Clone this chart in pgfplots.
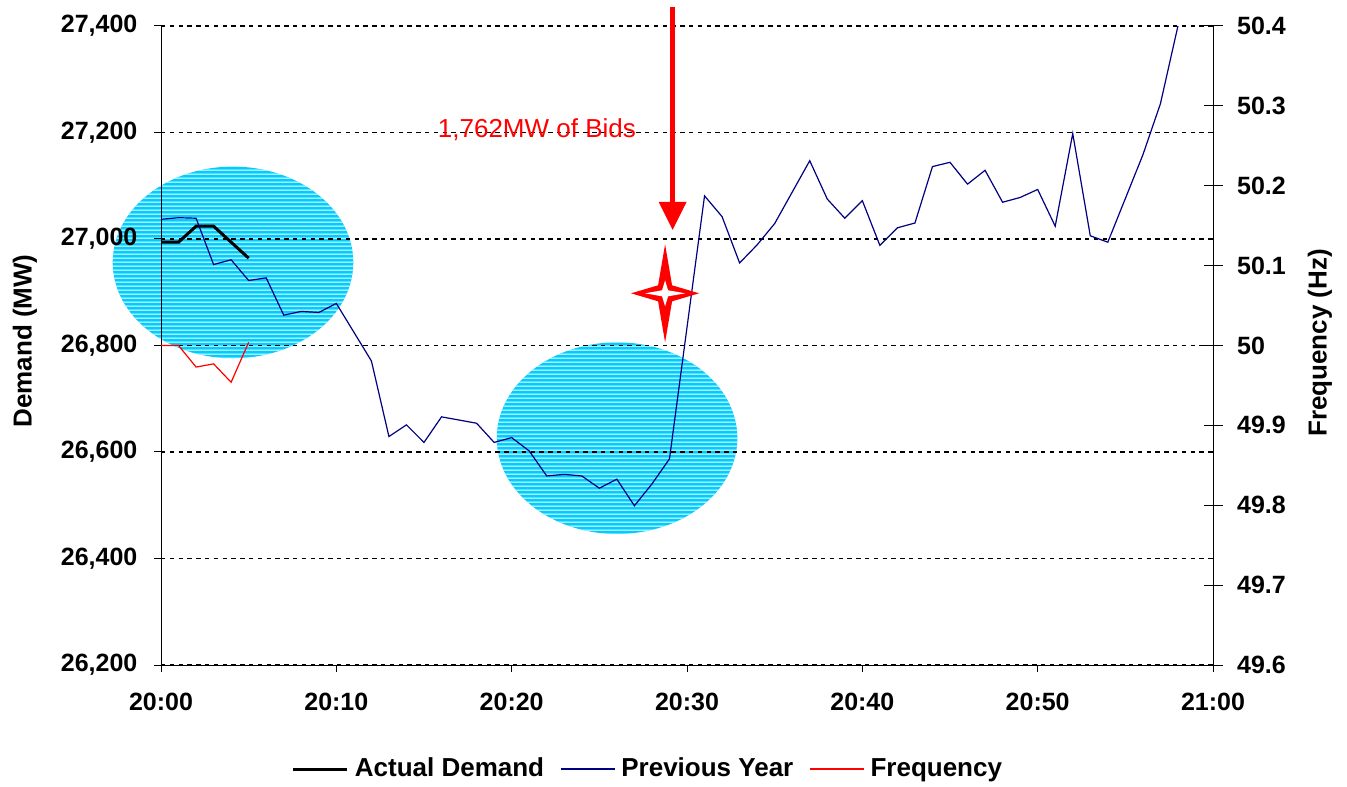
\documentclass[border=0pt]{standalone}
\usepackage{fontspec}
\setmainfont{Liberation Sans}
\usepackage{pgfplots}
\pgfplotsset{compat=1.18}
\usetikzlibrary{patterns}

\definecolor{navyline}{RGB}{0,0,128}
\definecolor{bubble}{RGB}{0,204,255}

% thin white stripes for the highlighted areas
\pgfdeclarepatternformonly{stripes}{\pgfqpoint{0pt}{0pt}}{\pgfqpoint{2.2pt}{2.2pt}}{\pgfqpoint{2.2pt}{2.2pt}}{%
  \pgfsetlinewidth{0.5pt}%
  \pgfpathmoveto{\pgfqpoint{-0.1pt}{1.1pt}}\pgfpathlineto{\pgfqpoint{2.3pt}{1.1pt}}\pgfusepath{stroke}}

\begin{document}
\begin{tikzpicture}
\pgfplotsset{
  common/.style={
    scale only axis, width=526pt, height=319.5pt,
    xmin=0, xmax=60, set layers, clip=false,
    /pgf/number format/assume math mode=true,
    tick label style={font=\bfseries\fontsize{12.5}{15}\selectfont, black},
    label style={font=\bfseries\fontsize{13}{15}\selectfont},
    axis line style={black, line width=0.5pt},
    tick style={black, line width=0.5pt},
  },
}
\begin{axis}[
  common,
  ymin=26200, ymax=27400,
  axis x line*=bottom, axis y line*=left,
  xtick={0,10,20,30,40,50,60},
  xticklabels={20:00,20:10,20:20,20:30,20:40,20:50,21:00},
  ytick={26200,26400,26600,26800,27000,27200,27400},
  scaled y ticks=false,
  yticklabel style={/pgf/number format/fixed, /pgf/number format/1000 sep={,}, xshift=-4.8pt},
  xticklabel style={yshift=-7pt},
  tick align=outside, major tick length=3.5pt,
  ymajorgrids,
  major grid style={black, line width=0.8pt, dash pattern=on 2.2pt off 2.2pt},
  ylabel={Demand (MW)},
  ylabel style={at={(axis description cs:-0.1293,0.507)}, anchor=center},
]
\begin{pgfonlayer}{axis background}
  \fill[bubble] (axis cs:4.106,26956) ellipse [x radius=60.15pt, y radius=47.9pt];
  \fill[pattern=stripes, pattern color=white] (axis cs:4.106,26956) ellipse [x radius=60.15pt, y radius=47.9pt];
  \fill[bubble] (axis cs:26.01,26626) ellipse [x radius=60.15pt, y radius=47.9pt];
  \fill[pattern=stripes, pattern color=white] (axis cs:26.01,26626) ellipse [x radius=60.15pt, y radius=47.9pt];
\end{pgfonlayer}

% Actual Demand
\addplot[black, line width=1.5pt, mark=none] coordinates {
  (0,26994) (1,26994) (2,27024) (3,27024) (5,26964)
};

% Previous Year
\addplot[navyline, line width=0.6pt, mark=none] coordinates {
  (0,27037) (1,27040) (2,27039) (3,26952) (4,26961) (5,26922)
  (6,26927) (7,26857) (8,26864) (9,26862) (10,26879) (12,26771)
  (13,26629) (14,26651) (15,26618) (16,26666) (18,26654) (19,26618)
  (20,26627) (21,26602) (22,26555) (23,26558) (24,26555) (25,26532)
  (26,26549) (27,26499) (28,26540) (29,26587) (31,27081) (32,27042)
  (33,26955) (34,26989) (35,27029) (37,27147) (38,27075) (39,27039)
  (40,27072) (41,26988) (42,27021) (43,27030) (44,27136) (45,27144)
  (46,27103) (47,27129) (48,27069) (49,27078) (50,27093) (51,27024)
  (52,27198) (53,27006) (54,26994) (56,27158) (57,27254) (58,27400)
};

\coordinate (star) at (axis cs:28.75,26898);
\coordinate (arrtop) at (axis cs:29.18,27436);
\coordinate (arrbase) at (axis cs:29.18,27069.5);
\coordinate (arrtip) at (axis cs:29.18,27017);
\node[red, font=\fontsize{13}{15}\selectfont] at (axis cs:21.44,27205) {1,762MW of Bids};
\end{axis}

\begin{axis}[
  common,
  ymin=49.6, ymax=50.4,
  axis y line*=right, axis x line=none,
  ytick={49.6,49.7,49.8,49.9,50,50.1,50.2,50.3,50.4},
  yticklabel style={xshift=3.8pt},
  tick align=center, major tick length=9.5pt,
  ylabel={Frequency (Hz)},
  ylabel style={at={(axis description cs:1.1017,0.504)}, anchor=center},
  legend style={at={(0.4648,-0.1628)}, anchor=center, draw=none, fill=none,
    font=\bfseries\fontsize{13}{15}\selectfont,
    nodes={inner xsep=3pt},
    /tikz/every even column/.append style={column sep=5pt}},
  legend columns=-1,
  legend image code/.code={\draw[#1] (0pt,0pt) -- (27pt,0pt);},
]
\addlegendimage{black, line width=1.5pt}
\addlegendentry{Actual Demand}
\addlegendimage{navyline, line width=0.6pt}
\addlegendentry{Previous Year}

% Frequency
\addplot[red, line width=0.6pt, mark=none] coordinates {
  (0,50.000) (1,50.000) (2,49.973) (3,49.977) (4,49.954) (5,50.004)
};
\addlegendentry{Frequency}
\end{axis}

% annotations
\draw[red, line width=2.5pt] (arrtop) -- (arrbase);
\fill[red] ([xshift=-7pt]arrbase) -- ([xshift=7pt]arrbase) -- (arrtip) -- cycle;
\fill[red] ([shift={(17pt,0pt)}]star) -- ([shift={(3.5pt,4pt)}]star) -- ([shift={(0pt,24.5pt)}]star)
  -- ([shift={(-3.5pt,4pt)}]star) -- ([shift={(-17pt,0pt)}]star) -- ([shift={(-3.5pt,-4pt)}]star)
  -- ([shift={(0pt,-24.5pt)}]star) -- ([shift={(3.5pt,-4pt)}]star) -- cycle;
\fill[white] ([shift={(10pt,0pt)}]star) -- ([shift={(1.5pt,1.5pt)}]star) -- ([shift={(0pt,6.5pt)}]star)
  -- ([shift={(-1.5pt,1.5pt)}]star) -- ([shift={(-10pt,0pt)}]star) -- ([shift={(-1.5pt,-1.5pt)}]star)
  -- ([shift={(0pt,-6.5pt)}]star) -- ([shift={(1.5pt,-1.5pt)}]star) -- cycle;

\pgfresetboundingbox
\path[use as bounding box] (-80.5pt,-60.5pt) rectangle (593pt,332.5pt);
\end{tikzpicture}
\end{document}
